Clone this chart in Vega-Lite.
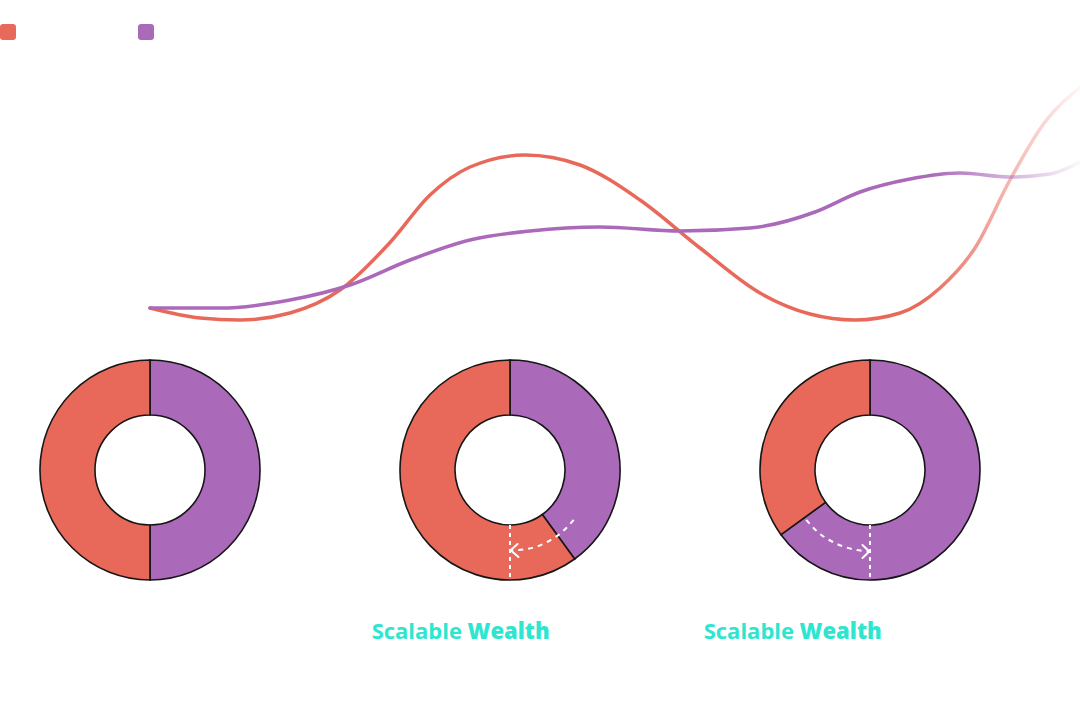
{
  "$schema": "https://vega.github.io/schema/vega-lite/v6.json",
  "width": 1080,
  "height": 720,
  "padding": 0,
  "autosize": {"type": "none"},
  "background": "#ffffff",
  "config": {"view": {"stroke": null}},
  "datasets": {
    "red": [
      {"t": 0, "v": 8.8}, {"t": 5.38, "v": 4.8}, {"t": 9.68, "v": 4}, {"t": 15.05, "v": 6.8},
      {"t": 20.43, "v": 16}, {"t": 25.81, "v": 35}, {"t": 30.11, "v": 54}, {"t": 34.41, "v": 65.2},
      {"t": 40.32, "v": 70}, {"t": 46.24, "v": 66}, {"t": 52.69, "v": 52}, {"t": 59.14, "v": 32.8},
      {"t": 65.59, "v": 14.8}, {"t": 70.97, "v": 6.4}, {"t": 75.81, "v": 4}, {"t": 80.65, "v": 6.8},
      {"t": 84.95, "v": 16.8}, {"t": 88.71, "v": 32.8}, {"t": 92.47, "v": 60}, {"t": 96.24, "v": 83.2},
      {"t": 100, "v": 97}
    ],
    "purple": [
      {"t": 0, "v": 8.8}, {"t": 7.53, "v": 8.8}, {"t": 15.05, "v": 12}, {"t": 21.51, "v": 18},
      {"t": 27.96, "v": 28}, {"t": 34.41, "v": 36}, {"t": 40.86, "v": 39.6}, {"t": 48.39, "v": 41.2},
      {"t": 56.99, "v": 39.6}, {"t": 64.52, "v": 40.8}, {"t": 71.51, "v": 47.2}, {"t": 76.34, "v": 55.2},
      {"t": 81.72, "v": 60.4}, {"t": 87.10, "v": 62.8}, {"t": 92.47, "v": 61.2}, {"t": 96.77, "v": 62.4},
      {"t": 100, "v": 67.2}
    ],
    "donuts": [
      {"donut": "Start", "t": 0, "v": -56, "series": "Portfolio B", "k": 0, "share": 50},
      {"donut": "Start", "t": 0, "v": -56, "series": "Portfolio A", "k": 1, "share": 50},
      {"donut": "Shift 1", "t": 38.71, "v": -56, "series": "Portfolio B", "k": 0, "share": 40},
      {"donut": "Shift 1", "t": 38.71, "v": -56, "series": "Portfolio A", "k": 1, "share": 60},
      {"donut": "Shift 2", "t": 77.42, "v": -56, "series": "Portfolio B", "k": 0, "share": 65},
      {"donut": "Shift 2", "t": 77.42, "v": -56, "series": "Portfolio A", "k": 1, "share": 35}
    ],
    "guides": [
      {"id": "d2", "t": 38.71, "v": -78, "v2": -100},
      {"id": "d3", "t": 77.42, "v": -78, "v2": -100}
    ],
    "arrows": [
      {"id": "a2", "s": 0, "t": 45.56, "v": -75.96},
      {"id": "a2", "s": 1, "t": 44.31, "v": -80.8},
      {"id": "a2", "s": 2, "t": 42.80, "v": -84.6},
      {"id": "a2", "s": 3, "t": 41.11, "v": -87.16},
      {"id": "a2", "s": 4, "t": 38.82, "v": -88.2},
      {"id": "a3", "s": 0, "t": 70.56, "v": -75.96},
      {"id": "a3", "s": 1, "t": 71.80, "v": -80.8},
      {"id": "a3", "s": 2, "t": 73.33, "v": -84.6},
      {"id": "a3", "s": 3, "t": 75.02, "v": -87.16},
      {"id": "a3", "s": 4, "t": 77.34, "v": -88.6}
    ],
    "heads": [
      {"id": "h2", "s": 0, "t": 39.52, "v": -85.6},
      {"id": "h2", "s": 1, "t": 38.78, "v": -88.12},
      {"id": "h2", "s": 2, "t": 39.62, "v": -90.8},
      {"id": "h3", "s": 0, "t": 76.61, "v": -86.0},
      {"id": "h3", "s": 1, "t": 77.34, "v": -88.6},
      {"id": "h3", "s": 2, "t": 76.61, "v": -91.2}
    ],
    "labels": [
      {"part": "light", "text": "Scalable", "t": 33.55, "v": -120.8},
      {"part": "bold", "text": "Wealth", "t": 34.15, "v": -120.8},
      {"part": "light", "text": "Scalable", "t": 69.25, "v": -120.8},
      {"part": "bold", "text": "Wealth", "t": 69.85, "v": -120.8}
    ]
  },
  "layer": [
    {
      "data": {"name": "red"},
      "mark": {
        "type": "line", "interpolate": "monotone", "strokeWidth": 3.5, "strokeCap": "round",
        "color": {"gradient": "linear", "x1": 0, "x2": 1, "y1": 0, "y2": 0,
          "stops": [
            {"offset": 0, "color": "#E8695A"},
            {"offset": 0.83, "color": "#E8695A"},
            {"offset": 1, "color": "rgba(232,105,90,0.05)"}
          ]}
      },
      "encoding": {
        "x": {"field": "t", "type": "quantitative", "axis": null, "scale": {"domain": [-16.129, 100], "nice": false, "zero": false}},
        "y": {"field": "v", "type": "quantitative", "axis": null, "scale": {"domain": [-156, 132], "nice": false, "zero": false}},
        "order": {"field": "t"}
      }
    },
    {
      "data": {"name": "purple"},
      "mark": {
        "type": "line", "interpolate": "monotone", "strokeWidth": 3.5, "strokeCap": "round",
        "color": {"gradient": "linear", "x1": 0, "x2": 1, "y1": 0, "y2": 0,
          "stops": [
            {"offset": 0, "color": "#AB69BA"},
            {"offset": 0.84, "color": "#AB69BA"},
            {"offset": 1, "color": "rgba(171,105,186,0.05)"}
          ]}
      },
      "encoding": {
        "x": {"field": "t", "type": "quantitative", "axis": null, "scale": {"domain": [-16.129, 100], "nice": false, "zero": false}},
        "y": {"field": "v", "type": "quantitative", "axis": null, "scale": {"domain": [-156, 132], "nice": false, "zero": false}},
        "order": {"field": "t"}
      }
    },
    {
      "data": {"name": "donuts"},
      "transform": [
        {"stack": "share", "groupby": ["donut"], "sort": [{"field": "k", "order": "ascending"}], "as": ["s0", "s1"]}
      ],
      "mark": {"type": "arc", "outerRadius": 110, "innerRadius": 55, "stroke": "#161616", "strokeWidth": 1.6},
      "encoding": {
        "x": {"field": "t", "type": "quantitative", "axis": null, "scale": {"domain": [-16.129, 100], "nice": false, "zero": false}},
        "y": {"field": "v", "type": "quantitative", "axis": null, "scale": {"domain": [-156, 132], "nice": false, "zero": false}},
        "theta": {"field": "s0", "type": "quantitative", "scale": {"domain": [0, 100], "range": [0, 6.283185307179586], "nice": false, "zero": false}},
        "theta2": {"field": "s1"},
        "color": {
          "field": "series", "type": "nominal",
          "scale": {"domain": ["Portfolio A", "Portfolio B"], "range": ["#E8695A", "#AB69BA"]},
          "legend": {
            "orient": "none", "legendX": 0, "legendY": 24, "direction": "horizontal", "title": null,
            "padding": 0, "symbolSize": 256, "symbolStrokeWidth": 0, "labelExpr": "''",
            "labelOffset": 4, "columnPadding": 118,
            "symbolType": "M -1 -0.6 Q -1 -1 -0.6 -1 L 0.6 -1 Q 1 -1 1 -0.6 L 1 0.6 Q 1 1 0.6 1 L -0.6 1 Q -1 1 -1 0.6 Z"
          }
        }
      }
    },
    {
      "data": {"name": "guides"},
      "mark": {"type": "rule", "color": "#ffffff", "strokeWidth": 2, "strokeDash": [4, 4]},
      "encoding": {
        "x": {"field": "t", "type": "quantitative", "axis": null, "scale": {"domain": [-16.129, 100], "nice": false, "zero": false}},
        "y": {"field": "v", "type": "quantitative", "axis": null, "scale": {"domain": [-156, 132], "nice": false, "zero": false}},
        "y2": {"field": "v2"}
      }
    },
    {
      "data": {"name": "arrows"},
      "mark": {"type": "line", "interpolate": "monotone", "color": "#ffffff", "strokeWidth": 2, "strokeDash": [5, 5]},
      "encoding": {
        "x": {"field": "t", "type": "quantitative", "axis": null, "scale": {"domain": [-16.129, 100], "nice": false, "zero": false}},
        "y": {"field": "v", "type": "quantitative", "axis": null, "scale": {"domain": [-156, 132], "nice": false, "zero": false}},
        "detail": {"field": "id"},
        "order": {"field": "s"}
      }
    },
    {
      "data": {"name": "heads"},
      "mark": {"type": "line", "color": "#ffffff", "strokeWidth": 2, "strokeCap": "round", "strokeJoin": "round"},
      "encoding": {
        "x": {"field": "t", "type": "quantitative", "axis": null, "scale": {"domain": [-16.129, 100], "nice": false, "zero": false}},
        "y": {"field": "v", "type": "quantitative", "axis": null, "scale": {"domain": [-156, 132], "nice": false, "zero": false}},
        "detail": {"field": "id"},
        "order": {"field": "s"}
      }
    },
    {
      "data": {"name": "labels"},
      "transform": [{"filter": "datum.part === 'light'"}],
      "mark": {"type": "text", "align": "right", "baseline": "middle", "font": "Open Sans", "fontSize": 22, "fontWeight": 700, "color": "#2EE6D0"},
      "encoding": {
        "x": {"field": "t", "type": "quantitative", "axis": null, "scale": {"domain": [-16.129, 100], "nice": false, "zero": false}},
        "y": {"field": "v", "type": "quantitative", "axis": null, "scale": {"domain": [-156, 132], "nice": false, "zero": false}},
        "text": {"field": "text"}
      }
    },
    {
      "data": {"name": "labels"},
      "transform": [{"filter": "datum.part === 'bold'"}],
      "mark": {"type": "text", "align": "left", "baseline": "middle", "font": "Open Sans", "fontSize": 22, "fontWeight": 800, "color": "#2EE6D0"},
      "encoding": {
        "x": {"field": "t", "type": "quantitative", "axis": null, "scale": {"domain": [-16.129, 100], "nice": false, "zero": false}},
        "y": {"field": "v", "type": "quantitative", "axis": null, "scale": {"domain": [-156, 132], "nice": false, "zero": false}},
        "text": {"field": "text"}
      }
    }
  ]
}
